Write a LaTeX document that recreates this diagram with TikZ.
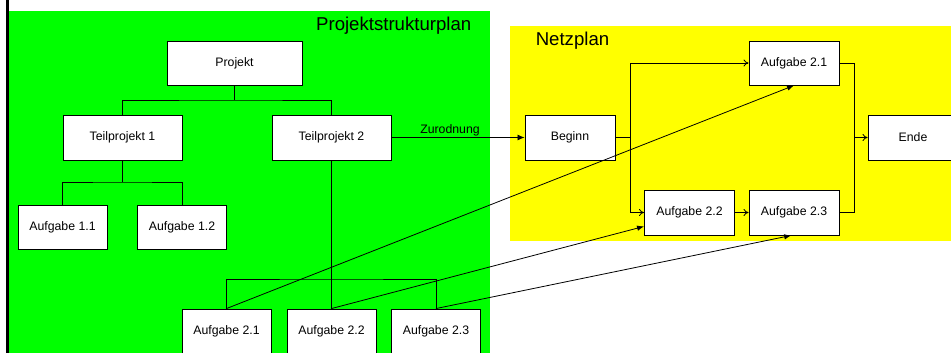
\documentclass[tikz,border=0pt]{standalone}
\usepackage{fontspec}
\setmainfont{Liberation Sans}
\usetikzlibrary{arrows.meta}
\definecolor{pgreen}{HTML}{00FF00}
\definecolor{pyellow}{HTML}{FFFF00}
\tikzset{
  box/.style={draw=black, line width=0.9pt, fill=white, inner sep=0pt,
    font=\fontsize{12.3}{14}\selectfont},
  bigbox/.style={box, minimum width=135pt, minimum height=44pt},
  tpbox/.style={box, minimum width=119pt, minimum height=45pt},
  abox/.style={box, minimum width=89pt, minimum height=44pt},
  title/.style={inner sep=0pt, anchor=base, font=\fontsize{18.6}{22}\selectfont},
  conn/.style={draw=black, line width=0.8pt},
  netarrow/.style={conn, -{To[length=5pt,width=7pt]}},
  maparrow/.style={conn, -{Latex[length=7pt,width=5.5pt]}},
}
\begin{document}
\begin{tikzpicture}[x=1pt,y=-1pt]
\useasboundingbox (0,0) rectangle (951,353);
% backgrounds
\fill[pgreen] (8.7,11) rectangle (490,353);
\fill[pyellow] (510,26) rectangle (951,240.5);
\draw[line width=2.5pt] (7.3,0) -- (7.3,353);
% titles
\node[title] (tpsp) at (393.7,31) {Projektstrukturplan};
\node[title] (tnet) at (572.5,45.7) {Netzplan};
% tree nodes
\node[bigbox] (proj) at (234.5,63) {Projekt};
\node[tpbox] (tp1) at (122.5,137.5) {Teilprojekt 1};
\node[tpbox] (tp2) at (331.5,137.5) {Teilprojekt 2};
\node[abox] (a11) at (62.5,227) {Aufgabe 1.1};
\node[abox] (a12) at (182,227) {Aufgabe 1.2};
\node[abox] (a21) at (226.5,331) {Aufgabe 2.1};
\node[abox] (a22) at (331.5,331) {Aufgabe 2.2};
\node[abox] (a23) at (436,331) {Aufgabe 2.3};
% net nodes
\node[abox, minimum width=90pt, minimum height=45pt] (beg) at (570,137.5) {Beginn};
\node[abox, minimum width=90pt] (n21) at (794,63) {Aufgabe 2.1};
\node[abox, minimum width=90pt, minimum height=45pt] (n22) at (689.5,212.5) {Aufgabe 2.2};
\node[abox, minimum width=90pt, minimum height=45pt] (n23) at (794,212.5) {Aufgabe 2.3};
\node[abox, minimum width=90pt, minimum height=45pt] (ende) at (913,137.5) {Ende};
% tree connectors
\coordinate (bus0) at (234.5,100);
\coordinate (bus1) at (122.5,182);
\coordinate (bus2) at (331.5,279);
\draw[conn] (proj.south) -- (bus0);
\draw[conn] (tp1.north) |- (bus0) -| (tp2.north);
\draw[conn] (tp1.south) -- (bus1);
\draw[conn] (a11.north) |- (bus1) -| (a12.north);
\draw[conn] (tp2.south) -- (a22.north);
\draw[conn] (a21.north) |- (bus2) -| (a23.north);
% net connectors
\coordinate (j1) at (630,137.5);
\coordinate (j2) at (854,137.5);
\draw[conn] (beg.east) -- (j1);
\draw[netarrow] (j1) |- (n21.west);
\draw[netarrow] (j1) |- (n22.west);
\draw[netarrow] (n22.east) -- (n23.west);
\draw[conn] (n21.east) -| (j2);
\draw[conn] (n23.east) -| (j2);
\draw[netarrow] (j2) -- (ende.west);
% mapping
\draw[conn, -{Latex[length=7pt,width=6pt]}] (tp2.east) -- node[pos=0.44, above=1.5pt, inner sep=0pt, font=\fontsize{12.3}{14}\selectfont] (zl) {Zurodnung} (beg.west);
\draw[maparrow] (a21.north) -- (n21.south);
\draw[maparrow] (a22.north) -- (n22.197);
\draw[maparrow] (a23.north) -- (n23.263);
\end{tikzpicture}
\end{document}
